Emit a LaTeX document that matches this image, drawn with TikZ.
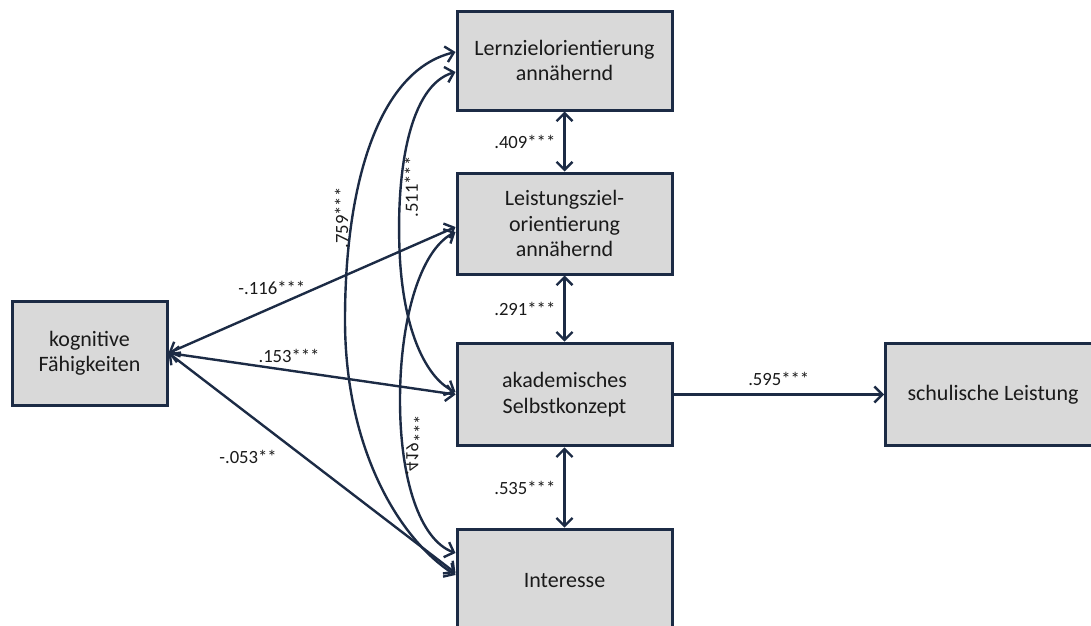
\documentclass[tikz,border=0pt]{standalone}
\usepackage{fontspec}
\setmainfont{Carlito}
\usetikzlibrary{arrows.meta,positioning,calc}
\definecolor{semnavy}{HTML}{1C2B45}
\definecolor{semgrey}{HTML}{D9D9D9}
\definecolor{semtext}{HTML}{1A1A1A}
\tikzset{
  var/.style={draw=semnavy,fill=semgrey,line width=2.25pt,align=center,
              minimum width=161.25pt,minimum height=77pt,inner sep=2pt,
              text=semtext,font=\fontsize{16.5}{19}\selectfont},
  cov/.style={{Straight Barb[length=6pt,width=12pt]}-{Straight Barb[length=6pt,width=12pt]},
              line width=1.8pt,semnavy},
  reg/.style={-{Straight Barb[length=6pt,width=12pt]},line width=1.8pt,semnavy},
  coef/.style={font=\fontsize{14}{16}\selectfont,text=semtext,inner sep=2pt},
}
\begin{document}
\begin{tikzpicture}[x=0.75pt,y=-0.75pt]
    \useasboundingbox (0,0) rectangle (1091,625);
    \node[var,minimum width=116.25pt,minimum height=78pt] (kog) at (89.5,353) {kognitive\\Fähigkeiten};
    \node[var,minimum height=74.25pt] (lern) at (564.5,60.5) {Lernzielorientierung\\annähernd};
    \node[var,minimum height=75.75pt] (leist) at (564.5,223.5) {Leistungsziel-\\orientierung\\annähernd};
    \node[var] (akad) at (564.5,394.5) {akademisches\\Selbstkonzept};
    \node[var] (inter) at (564.5,580.5) {Interesse};
    \node[var] (schul) at (993,394.5) {schulische Leistung};
    % correlations between the motivation variables
    \draw[cov](lern)--node[coef,left=4pt]{.409***}(leist);
    \draw[cov](leist)--node[coef,left=4pt]{.291***}(akad);
    \draw[cov](akad)--node[coef,left=4pt]{.535***}(inter);
    \draw[reg](akad)--node[coef,above=4pt]{.595***}(schul);
    % paths from kognitive Faehigkeiten
    \draw[cov](kog.east)--node[coef,above=7pt,pos=.36]{-.116***}($(leist.west)+(0,3.5)$);
    \draw[cov](kog.east)--node[coef,above=3pt,pos=.42]{.153***}(akad.west);
    \draw[cov](kog.east)--node[coef,anchor=north east,pos=.4,xshift=-2pt,yshift=-4pt]{-.053**}($(inter.west)+(0,-7.5)$);
    % curved correlations
    \draw[cov]($(lern.west)+(0,-8.5)$) .. controls (380,70) and (345,180) ..
      node[coef,rotate=90,anchor=south,pos=.74]{.759***} (345,320)
      .. controls (345,450) and (400,540) .. ($(inter.west)+(0,-5.5)$);
    \draw[cov]($(lern.west)+(0,11.5)$) .. controls (410,85) and (395,170) ..
      node[coef,rotate=90,anchor=north,pos=.72]{.511***} (400,260)
      .. controls (405,340) and (430,380) .. ($(akad.west)+(0,-2.5)$);
    \draw[cov]($(leist.west)+(0,8.5)$) .. controls (420,250) and (400,320) .. (400,400)
      .. controls (400,480) and (420,540) ..
      node[coef,rotate=90,yscale=-1,anchor=south,pos=.2]{.419***} ($(inter.west)+(0,-27.5)$);
\end{tikzpicture}
\end{document}
